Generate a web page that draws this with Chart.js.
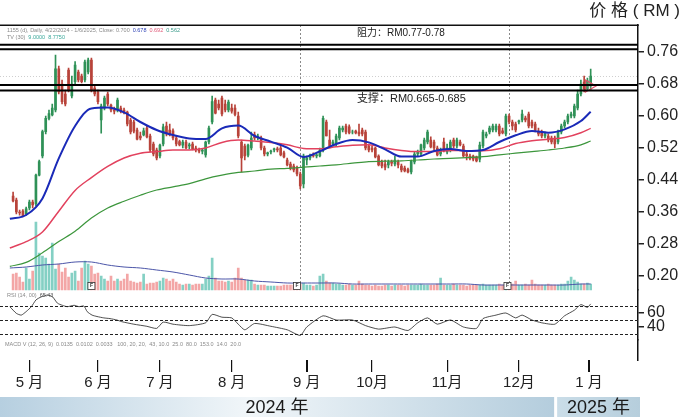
<!DOCTYPE html>
<html><head><meta charset="utf-8">
<script src="https://cdn.jsdelivr.net/npm/chart.js@4.4.1/dist/chart.umd.min.js"></script>
<style>html,body{margin:0;padding:0;background:#fff;}canvas{display:block;}</style>
</head><body>
<canvas id="c" width="684" height="417"></canvas>
<script>
// ---------- DATA ----------
const firstIdx = 1;
const candleOpen = [
.40,.39,.36,.362,.355,.37,.385,.38,.452,.50,
.561,.594,.603,.615,.718,.68,.655,.715,.65,.686,
.71,.70,.69,.71,.74,.67,.66,.59,.62,.655,
.627,.615,.615,.62,.615,.61,.59,.585,.565,.55,
.553,.57,.55,.53,.515,.50,.53,.575,.565,.563,
.545,.536,.527,.535,.525,.53,.52,.515,.512,.503,
.535,.585,.64,.63,.645,.63,.615,.62,.62,.60,
.535,.525,.502,.52,.553,.545,.545,.52,.505,.51,
.515,.518,.52,.508,.49,.48,.475,.47,.455,.43,
.49,.495,.502,.50,.50,.515,.585,.54,.53,.53,
.545,.565,.575,.573,.56,.562,.56,.565,.56,.525,
.52,.52,.50,.485,.48,.478,.485,.48,.485,.475,
.47,.466,.46,.485,.505,.505,.52,.535,.54,.535,
.52,.505,.535,.51,.515,.54,.525,.535,.525,.505,
.50,.50,.498,.492,.525,.55,.56,.565,.565,.575,
.563,.555,.60,.585,.58,.585,.59,.595,.605,.585,
.58,.56,.56,.55,.55,.545,.545,.535,.56,.575,
.585,.60,.60,.62,.655,.685,.668,.675];
const candleHigh = [
.41,.395,.365,.366,.372,.39,.39,.455,.49,.565,
.60,.615,.63,.752,.725,.69,.665,.72,.70,.736,
.715,.705,.74,.745,.745,.675,.665,.63,.65,.66,
.63,.622,.645,.625,.62,.612,.595,.59,.57,.56,
.57,.575,.555,.535,.52,.53,.58,.585,.58,.568,
.55,.54,.54,.54,.532,.535,.525,.52,.518,.537,
.575,.65,.645,.64,.65,.64,.64,.63,.628,.61,
.54,.53,.53,.56,.56,.555,.55,.525,.51,.515,
.52,.522,.53,.512,.495,.485,.48,.475,.46,.505,
.50,.505,.508,.506,.52,.60,.59,.565,.54,.555,
.575,.575,.58,.578,.565,.565,.58,.57,.565,.53,
.525,.522,.503,.49,.49,.49,.49,.50,.49,.48,
.475,.47,.49,.51,.515,.53,.545,.565,.548,.54,
.525,.52,.545,.53,.54,.545,.545,.54,.53,.51,
.505,.502,.50,.535,.565,.56,.575,.58,.58,.58,
.57,.605,.605,.59,.585,.59,.615,.60,.61,.59,
.585,.57,.565,.56,.555,.55,.55,.565,.58,.59,
.605,.61,.63,.665,.69,.70,.695,.717];
const candleLow = [
.385,.355,.352,.348,.352,.365,.37,.375,.45,.495,
.555,.59,.60,.61,.655,.63,.625,.66,.645,.68,
.685,.683,.685,.705,.66,.65,.63,.557,.615,.625,
.61,.605,.61,.608,.605,.575,.555,.558,.54,.54,
.55,.545,.51,.50,.49,.495,.525,.55,.55,.54,
.525,.525,.52,.518,.518,.515,.51,.508,.505,.497,
.53,.58,.605,.615,.60,.61,.61,.607,.60,.545,
.46,.49,.498,.515,.54,.54,.515,.50,.50,.505,
.51,.51,.50,.495,.475,.465,.46,.45,.418,.42,
.478,.49,.497,.495,.498,.51,.55,.52,.525,.525,
.54,.56,.555,.555,.555,.555,.55,.55,.515,.51,
.51,.495,.475,.47,.465,.47,.475,.475,.47,.46,
.46,.458,.455,.48,.50,.50,.515,.53,.52,.515,
.50,.50,.51,.505,.51,.52,.52,.525,.498,.49,
.49,.488,.485,.485,.52,.545,.555,.56,.56,.55,
.555,.55,.58,.565,.56,.58,.585,.585,.57,.57,
.56,.55,.545,.545,.535,.53,.52,.53,.555,.57,
.58,.595,.595,.615,.65,.66,.665,.665];
const candleClose = [
.388,.36,.358,.35,.368,.385,.378,.452,.486,.561,
.594,.606,.62,.718,.66,.636,.63,.665,.68,.727,
.69,.686,.735,.74,.665,.655,.636,.625,.645,.63,
.615,.612,.64,.612,.608,.58,.56,.562,.542,.545,
.563,.548,.515,.505,.495,.527,.573,.555,.553,.545,
.53,.528,.535,.52,.528,.518,.515,.512,.515,.535,
.57,.636,.607,.62,.605,.615,.635,.612,.604,.55,
.495,.50,.527,.545,.545,.55,.52,.505,.508,.512,
.518,.515,.503,.498,.478,.47,.465,.455,.425,.50,
.495,.502,.50,.503,.515,.594,.55,.525,.535,.55,
.57,.57,.56,.558,.56,.558,.555,.555,.52,.515,
.515,.498,.478,.475,.472,.485,.482,.49,.478,.465,
.463,.46,.487,.505,.51,.528,.54,.56,.523,.52,
.503,.515,.513,.52,.535,.525,.54,.528,.50,.50,
.494,.492,.488,.527,.56,.555,.57,.575,.575,.555,
.558,.60,.585,.575,.565,.588,.605,.59,.575,.575,
.565,.555,.55,.555,.54,.535,.53,.56,.575,.585,
.60,.605,.625,.655,.68,.668,.688,.70];
const volume = [
16,17,13,8,22,11,19,68,37,34,
32,26,47,21,26,18,22,13,17,19,
9,22,29,26,24,16,17,14,11,9,
14,9,11,9,11,16,9,8,7,8,
16,6,7,7,8,9,12,11,9,11,
8,6,5,6,6,5,6,6,6,11,
14,32,12,9,9,8,9,8,12,22,
12,10,10,10,6,5,5,5,4,4,
4,4,4,5,5,5,5,5,6,7,
5,5,4,5,14,16,9,7,7,6,
6,5,5,6,5,5,9,6,5,5,
4,5,4,4,5,5,4,5,5,5,
4,5,5,5,5,6,5,5,5,5,
6,12,5,5,5,6,5,5,5,4,
5,5,5,5,6,5,5,5,5,6,
5,5,5,6,9,5,5,6,5,10,
6,5,5,5,6,5,5,5,6,6,
9,13,10,8,6,6,7,6];

const maIdx = [0,5,10,15,20,25,30,35,40,45,50,55,60,65,70,75,80,85,90,95,100,105,110,115,120,125,130,135,140,145,150,155,160,165,170,175,178];
const ma10 = [.343,.3525,.394,.494,.575,.619,.621,.609,.585,.565,.5525,.544,.5425,.569,.576,.55,.536,.521,.4975,.5117,.53,.54,.534,.5167,.4985,.4985,.5125,.5175,.5125,.515,.535,.5517,.5625,.5583,.5667,.5875,.6108];
const ma30 = [.27,.286,.31,.362,.414,.446,.474,.495,.507,.511,.515,.515,.52,.534,.54,.5375,.534,.528,.519,.518,.523,.527,.528,.52,.514,.511,.511,.514,.513,.513,.518,.531,.538,.542,.546,.558,.569];
const ma72 = [.224,.234,.258,.286,.312,.345,.37,.387,.402,.415,.423,.431,.443,.452,.459,.4625,.467,.469,.472,.475,.478,.482,.486,.487,.488,.49,.4925,.494,.496,.4985,.503,.507,.511,.515,.52,.528,.5375];
const volMA = [22,23,25,26,28,28,25,23,22,20,18,15,12,11,11,9,8,7,7,7,7,6,6,6,6,6,6,6,6,5,5,5,5,5,5,6,6];

const rsiIdx = [0,2,3.5,5,6.6,8,9.6,11.6,13.1,14.6,16.1,17.6,19.7,21.2,22.7,23.7,25.2,26.7,28.8,30.7,32.8,34.3,38,42,45,47,50,55,60,62,65,68,70,72,75,80,85,89,91,96,100,105,109,113,118,122,125,128,131,135,139,143,145,149,152,155,157,160,163,167,170,173,175,177,178];
const rsiVal = [69,59.5,57,62,69,78.6,83,85.7,83,74,71,69,71,69,70,62,57,55,53,52,50,47.6,44,41,38,47,44,42,46,58,54,53,44,36,45,41,36,28,40,56,50,50,42,37,40,35,46,53,44,50,40,38,52,57,60,53,57,50,46,44,56,64,72,68,73];

const priceTicks = [0.76,0.68,0.60,0.52,0.44,0.36,0.28,0.20];
const rsiTicks = [60,40];
const rsiLevels = [70,50,30];
const monthIdx = [6,27,46,68,91,111,134,156,177.5];
const monthLabels = ['5 月','6 月','7 月','8 月','9 月','10月','11月','12月','1 月'];
const resistanceLevels = [0.778,0.767];
const supportLevels = [0.6775,0.664];
const refLevel = 0.70;
const vLineIdx = [89,153];
const fMarkIdx = [25,88,152.5];
const triIdx = [177.5];
const triVal = [0.675];
const yearSplitIdx = 166.8;
const lastSlot = 192;

// ---------- BUILD ----------
const UP = '#2f9157', DOWN = '#b8433a', VUP = '#84d0c4', VDOWN = '#f3a6a6';
const FONT = "'Liberation Sans','Noto Sans CJK SC',sans-serif";
const idx = candleOpen.map((_, k) => firstIdx + k);
const isUp = candleOpen.map((o, k) => candleClose[k] >= o);
const cCol = isUp.map(u => u ? UP : DOWN);
const vCol = isUp.map(u => u ? VUP : VDOWN);

const line = (xs, ys) => xs.map((x, k) => ({x, y: ys[k]}));

const datasets = [
  {type:'bar', label:'vol', data: idx.map((x,k)=>({x, y: volume[k]})), yAxisID:'yv',
   backgroundColor: vCol, barThickness: 2, grouped:false, order: 10},
  {type:'line', label:'volMA', data: line(maIdx, volMA), yAxisID:'yv', borderColor:'#4b55a8',
   borderWidth:1, pointRadius:0, tension:0.3, order: 9},
  {type:'bar', label:'wick', data: idx.map((x,k)=>({x, y:[candleLow[k], candleHigh[k]]})), yAxisID:'y',
   backgroundColor: cCol, barThickness: 1, grouped:false, order: 8},
  {type:'bar', label:'body', data: idx.map((x,k)=>({x, y:[candleOpen[k], candleClose[k]]})), yAxisID:'y',
   backgroundColor: cCol, barThickness: 2, grouped:false, order: 7},
  {type:'line', label:'ma72', data: line(maIdx, ma72), yAxisID:'y', borderColor:'#3c963c',
   borderWidth:1.2, pointRadius:0, cubicInterpolationMode:'monotone', order: 3},
  {type:'line', label:'ma30', data: line(maIdx, ma30), yAxisID:'y', borderColor:'#e2425e',
   borderWidth:1.5, pointRadius:0, cubicInterpolationMode:'monotone', order: 2},
  {type:'line', label:'ma10', data: line(maIdx, ma10), yAxisID:'y', borderColor:'#1a2ab8',
   borderWidth:2, pointRadius:0, cubicInterpolationMode:'monotone', order: 1},
  {type:'line', label:'rsi', data: line(rsiIdx, rsiVal), yAxisID:'yr', borderColor:'#222',
   borderWidth:0.8, pointRadius:0, tension:0.2, order: 1},
  {type:'line', label:'tri', data: line(triIdx, triVal), yAxisID:'y', showLine:false,
   pointStyle:'triangle', rotation:90, pointRadius:7, borderColor:'#e0506a', borderWidth:1.2,
   pointBackgroundColor:'rgba(255,180,190,0.15)', order: 0}
];

function hl(ctx, x1, x2, y){ctx.beginPath();ctx.moveTo(x1,y);ctx.lineTo(x2,y);ctx.stroke();}

const decor = {
  id:'decor',
  beforeDatasetsDraw(chart){
    const {ctx, chartArea:ca, scales:{x, y, yr}} = chart;
    ctx.save();
    ctx.lineWidth = 1;
    ctx.strokeStyle = '#cfcfcf'; ctx.setLineDash([1,2]);
    hl(ctx, 0, ca.right, Math.round(y.getPixelForValue(refLevel))+0.5);
    ctx.strokeStyle = '#8a8a8a'; ctx.setLineDash([2,2]);
    vLineIdx.forEach(v=>{const px=Math.round(x.getPixelForValue(v))+0.5;
      ctx.beginPath();ctx.moveTo(px,ca.top);ctx.lineTo(px,y.bottom);ctx.stroke();});
    ctx.strokeStyle = '#222'; ctx.setLineDash([3,2]);
    rsiLevels.forEach(r=>hl(ctx, 0, ca.right, Math.round(yr.getPixelForValue(r))+0.5));
    ctx.restore();
  },
  afterDatasetsDraw(chart){
    const {ctx, chartArea:ca, scales:{x, y, yv}} = chart;
    ctx.save();
    ctx.strokeStyle = '#000'; ctx.lineWidth = 2;
    resistanceLevels.concat(supportLevels).forEach(p=>hl(ctx, 0, ca.right, y.getPixelForValue(p)));
    // F markers
    const base = yv.getPixelForValue(0);
    fMarkIdx.forEach(v=>{
      const px = x.getPixelForValue(v);
      ctx.fillStyle='#fff'; ctx.fillRect(px-3.5, base-7.5, 7, 7);
      ctx.lineWidth=0.8; ctx.strokeStyle='#333'; ctx.strokeRect(px-3.5, base-7.5, 7, 7);
      ctx.fillStyle='#333'; ctx.font="bold 5px "+FONT; ctx.textAlign='center'; ctx.textBaseline='middle';
      ctx.fillText('F', px, base-4);
    });
    // labels
    ctx.textAlign='left'; ctx.textBaseline='middle'; ctx.fillStyle='#222';
    ctx.font = "10px "+FONT; ctx.fillText('阻力：RM0.77-0.78', 357, 33);
    ctx.font = "11px "+FONT; ctx.fillText('支撑：RM0.665-0.685', 357, 99);
    // small header texts
    const seg = (parts, x0, y0) => { let xx=x0; parts.forEach(([t,c])=>{ctx.fillStyle=c; ctx.fillText(t,xx,y0); xx+=ctx.measureText(t).width+3;}); };
    ctx.font = "5.5px "+FONT;
    seg([['1155 (d), Daily, 4/22/2024 - 1/6/2025, Close: 0.700','#8a8a8a'],['0.678','#2b3fb5'],['0.692','#e05a78'],['0.562','#3a9a8a']], 7, 30);
    seg([['TV (30)','#8a8a8a'],['9.0000','#3aa89a'],['8.7750','#3aa89a']], 7, 37);
    seg([['RSI (14, 00)','#8a8a8a'],['65.43','#555']], 7, 295);
    seg([['MACD V (12, 26, 9)  0.0135  0.0102  0.0033   100, 20, 20,  43, 10.0  25.0  80.0  153.0  14.0  20.0','#8a8a8a']], 5, 344);
    ctx.restore();
  },
  afterDraw(chart){
    const {ctx, chartArea:ca, scales:{x}} = chart;
    ctx.save();
    ctx.strokeStyle='#111'; ctx.lineWidth=1.5;
    hl(ctx, 0, ca.right+0.75, ca.top+0.25);
    // year bars
    const split = x.getPixelForValue(yearSplitIdx);
    const yTop = 397, h = 20;
    let g = ctx.createLinearGradient(0,0,split,0);
    g.addColorStop(0,'#b6cfe0'); g.addColorStop(0.45,'#f1f6f9'); g.addColorStop(1,'#b4cddd');
    ctx.fillStyle=g; ctx.fillRect(0,yTop,split,h);
    g = ctx.createLinearGradient(split+3,0,ca.right+2,0);
    g.addColorStop(0,'#cadde8'); g.addColorStop(1,'#b6cedc');
    ctx.fillStyle=g; ctx.fillRect(split+3,yTop,ca.right+2-(split+3),h);
    ctx.fillStyle='#1a1a1a'; ctx.font="18px "+FONT; ctx.textAlign='center'; ctx.textBaseline='middle';
    ctx.fillText('2024 年', split/2, yTop+h/2+1);
    ctx.fillText('2025 年', (split+3+ca.right+2)/2, yTop+h/2+1);
    // axis title
    ctx.textAlign='right'; ctx.font="17px "+FONT; ctx.fillStyle='#222';
    ctx.fillText('价 格 ( RM )', 680, 11);
    ctx.restore();
  }
};

const yTickStyle = {font:{family:FONT, size:16}, color:'#222', padding:3, autoSkip:false};
const yGrid = {drawOnChartArea:false, drawTicks:true, tickLength:6, color:'#222', lineWidth:1.5};
const fit46 = s => { s.width = 46; };

new Chart(document.getElementById('c'), {
  type:'line',
  data:{datasets},
  options:{
    responsive:false, animation:false, devicePixelRatio:1, events:[],
    layout:{padding:{top:25,left:0,right:0,bottom:0}},
    plugins:{legend:{display:false}, tooltip:{enabled:false}},
    scales:{
      x:{type:'linear', min:-0.5, max:lastSlot+0.5, offset:false,
         grid:{drawOnChartArea:false, drawTicks:true, tickLength:12, color:'#111',
               lineWidth:(c)=> (c.index===4||c.index===8)?2:1.2, offset:false},
         border:{display:false},
         afterBuildTicks:s=>{s.ticks = monthIdx.map(v=>({value:v}));},
         afterFit:s=>{s.height = 57;},
         ticks:{autoSkip:false, maxRotation:0, padding:2, color:'#222', font:{family:FONT,size:15},
                callback:(v,i)=>monthLabels[i]}},
      y:{type:'linear', position:'right', stack:'r', stackWeight:265, min:0.165, max:0.8275,
         afterBuildTicks:s=>{s.ticks = priceTicks.map(v=>({value:v}));},
         afterFit:fit46, grid:yGrid, border:{display:true,color:'#111',width:1.5},
         ticks:Object.assign({callback:v=>v.toFixed(2)}, yTickStyle)},
      yr:{type:'linear', position:'right', stack:'r', stackWeight:50, min:21.43, max:92.86,
         afterBuildTicks:s=>{s.ticks = rsiTicks.map(v=>({value:v}));},
         afterFit:fit46, grid:yGrid, border:{display:true,color:'#111',width:1.5},
         ticks:Object.assign({callback:v=>String(v)}, yTickStyle)},
      ym:{type:'linear', position:'right', stack:'r', stackWeight:20, min:0, max:1,
         afterFit:fit46, grid:{display:false, drawTicks:false}, border:{display:true,color:'#111',width:1.5},
         ticks:{display:false}},
      yv:{type:'linear', position:'left', display:false, min:-70, max:265}
    }
  },
  plugins:[decor]
});
</script>
</body></html>
